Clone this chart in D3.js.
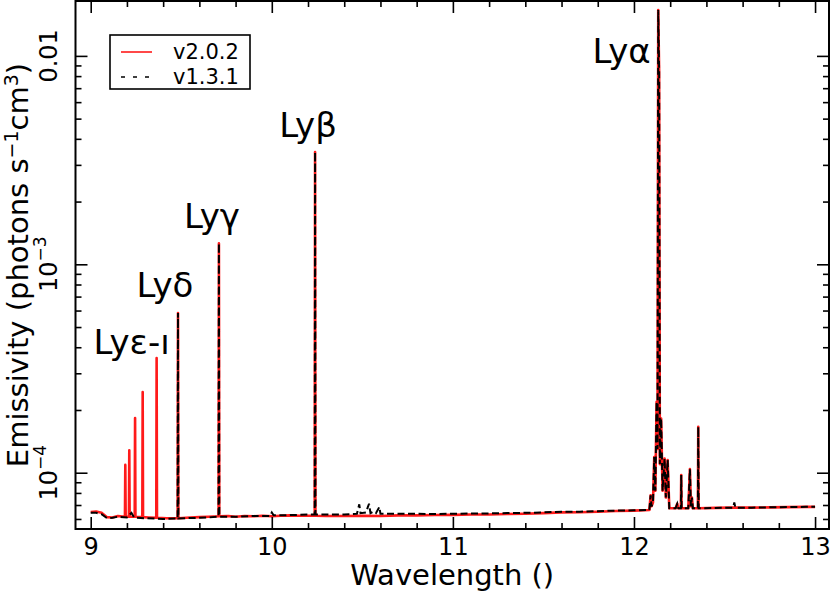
<!DOCTYPE html>
<html>
<head>
<meta charset="utf-8">
<script src="https://cdn.jsdelivr.net/npm/d3@7"></script>
<style>
  html, body { margin: 0; padding: 0; background: #fff; }
  svg { display: block; font-family: "DejaVu Sans", sans-serif; }
</style>
</head>
<body>
<svg id="chart" width="830" height="591"></svg>
<script>
// ---------------- data ----------------
const xTicks = [9, 10, 11, 12, 13];
const yTicks = [1e-4, 1e-3, 1e-2];
const yTickLabels = [["10", "\u22124"], ["10", "\u22123"], ["0.01", ""]];
const seriesNames = ["v2.0.2", "v1.3.1"];

// line labels: [text, wavelength, value for label]
const lineLabels = [
  ["Ly\u03b1", 12.136, 0.0166],
  ["Ly\u03b2", 10.239, 3.46e-3],
  ["Ly\u03b3", 9.708, 1.26e-3],
  ["Ly\u03b4", 9.482, 5.84e-4],
  ["Ly\u03b5-\u0131", 9.364, 3.55e-4]
];

// v2.0.2 spectrum [wavelength (Å), emissivity]
const v202 = [
  [9.000, 6.48e-5], [9.030, 6.52e-5], [9.060, 6.42e-5], [9.090, 6.12e-5], [9.120, 6.10e-5],
  [9.150, 6.20e-5], [9.189, 6.15e-5], [9.191, 1.09e-4], [9.193, 6.15e-5],
  [9.211, 6.15e-5], [9.213, 1.28e-4], [9.215, 6.15e-5],
  [9.243, 6.15e-5], [9.245, 1.83e-4], [9.247, 6.15e-5],
  [9.285, 6.12e-5], [9.287, 2.44e-4], [9.289, 6.12e-5],
  [9.320, 6.10e-5], [9.362, 6.08e-5], [9.364, 3.55e-4], [9.366, 6.08e-5],
  [9.420, 6.05e-5], [9.480, 6.05e-5], [9.482, 5.84e-4], [9.484, 6.05e-5],
  [9.550, 6.10e-5], [9.600, 6.12e-5], [9.650, 6.15e-5],
  [9.706, 6.18e-5], [9.708, 1.26e-3], [9.710, 6.18e-5],
  [9.760, 6.20e-5], [9.800, 6.15e-5], [9.850, 6.20e-5], [9.900, 6.18e-5], [9.950, 6.22e-5],
  [10.000, 6.18e-5], [10.050, 6.22e-5], [10.100, 6.24e-5], [10.150, 6.22e-5], [10.200, 6.22e-5],
  [10.237, 6.22e-5], [10.239, 3.46e-3], [10.241, 6.22e-5],
  [10.300, 6.20e-5], [10.400, 6.20e-5], [10.500, 6.22e-5], [10.600, 6.20e-5], [10.700, 6.24e-5],
  [10.800, 6.24e-5], [10.900, 6.27e-5], [11.000, 6.28e-5], [11.100, 6.30e-5], [11.200, 6.30e-5],
  [11.300, 6.34e-5], [11.400, 6.36e-5], [11.500, 6.40e-5], [11.600, 6.45e-5], [11.700, 6.46e-5],
  [11.800, 6.50e-5], [11.900, 6.55e-5], [12.000, 6.58e-5], [12.085, 6.62e-5],
  [12.092, 7.8e-5], [12.097, 6.9e-5], [12.105, 7.2e-5], [12.112, 1.19e-4], [12.118, 8.2e-5],
  [12.125, 2.19e-4], [12.130, 1.3e-4], [12.134, 0.0166], [12.139, 8.4e-3], [12.143, 1.1e-4],
  [12.150, 1.82e-4], [12.158, 8.2e-5], [12.169, 1.17e-4], [12.176, 7.6e-5], [12.186, 1.15e-4],
  [12.195, 6.75e-5], [12.230, 6.75e-5], [12.239, 7.1e-5], [12.245, 6.75e-5],
  [12.259, 6.75e-5], [12.261, 9.75e-5], [12.263, 6.75e-5],
  [12.300, 6.75e-5], [12.309, 1.04e-4], [12.314, 6.9e-5], [12.320, 7.6e-5], [12.325, 6.75e-5],
  [12.353, 6.75e-5], [12.355, 1.66e-4], [12.357, 6.75e-5],
  [12.450, 6.78e-5], [12.550, 6.80e-5], [12.650, 6.80e-5], [12.750, 6.82e-5],
  [12.850, 6.84e-5], [12.950, 6.86e-5], [13.000, 6.86e-5]
];

// v1.3.1 spectrum [wavelength (Å), emissivity]
const v131 = [
  [9.000, 6.42e-5], [9.030, 6.42e-5], [9.060, 6.32e-5], [9.090, 6.05e-5], [9.120, 6.08e-5],
  [9.150, 6.15e-5], [9.200, 6.10e-5], [9.225, 6.42e-5], [9.240, 6.10e-5],
  [9.300, 6.05e-5], [9.400, 6.00e-5], [9.480, 6.03e-5], [9.482, 5.84e-4], [9.484, 6.03e-5],
  [9.550, 6.06e-5], [9.650, 6.10e-5], [9.706, 6.15e-5], [9.708, 1.26e-3], [9.710, 6.15e-5],
  [9.800, 6.15e-5], [9.900, 6.20e-5], [9.990, 6.20e-5], [10.000, 6.45e-5], [10.010, 6.25e-5],
  [10.100, 6.26e-5], [10.200, 6.30e-5], [10.237, 6.30e-5], [10.239, 3.46e-3], [10.241, 6.30e-5],
  [10.300, 6.30e-5], [10.400, 6.30e-5], [10.470, 6.35e-5], [10.483, 7.05e-5], [10.490, 6.40e-5],
  [10.520, 6.45e-5], [10.537, 7.10e-5], [10.545, 6.40e-5], [10.560, 6.50e-5], [10.575, 6.40e-5],
  [10.594, 6.85e-5], [10.600, 6.35e-5], [10.700, 6.35e-5], [10.800, 6.35e-5], [10.900, 6.33e-5],
  [11.000, 6.36e-5], [11.100, 6.37e-5], [11.200, 6.38e-5], [11.300, 6.40e-5], [11.400, 6.42e-5],
  [11.500, 6.45e-5], [11.600, 6.50e-5], [11.700, 6.50e-5], [11.800, 6.54e-5], [11.900, 6.58e-5],
  [12.000, 6.60e-5], [12.085, 6.62e-5],
  [12.092, 7.8e-5], [12.097, 6.9e-5], [12.105, 7.2e-5], [12.112, 1.19e-4], [12.118, 8.2e-5],
  [12.125, 2.19e-4], [12.130, 1.3e-4], [12.134, 0.0166], [12.139, 8.4e-3], [12.143, 1.1e-4],
  [12.150, 1.82e-4], [12.158, 8.2e-5], [12.169, 1.17e-4], [12.176, 7.6e-5], [12.186, 1.15e-4],
  [12.195, 6.75e-5], [12.230, 6.75e-5], [12.239, 7.1e-5], [12.245, 6.75e-5],
  [12.259, 6.75e-5], [12.261, 9.75e-5], [12.263, 6.75e-5],
  [12.300, 6.75e-5], [12.309, 1.04e-4], [12.314, 6.9e-5], [12.320, 7.6e-5], [12.325, 6.75e-5],
  [12.353, 6.75e-5], [12.355, 1.66e-4], [12.357, 6.75e-5],
  [12.450, 6.78e-5], [12.548, 6.80e-5], [12.554, 7.2e-5], [12.560, 6.80e-5], [12.650, 6.80e-5],
  [12.750, 6.82e-5], [12.850, 6.84e-5], [12.950, 6.86e-5], [13.000, 6.86e-5]
];

// ---------------- layout ----------------
const svg = d3.select("#chart");
const L = 75.5, R = 829, T = 1, B = 529;

const x = d3.scaleLinear().domain([8.916, 13.077]).range([L, R]);
const y = d3.scaleLog().domain([5.37e-5, 0.01834]).range([B, T]);

svg.append("defs").append("clipPath").attr("id", "clip")
  .append("rect").attr("x", L).attr("y", T).attr("width", R - L).attr("height", B - T);

const line = d3.line().x(d => x(d[0])).y(d => y(d[1]));
const plot = svg.append("g").attr("clip-path", "url(#clip)");
plot.append("path").datum(v202).attr("d", line)
  .attr("fill", "none").attr("stroke", "#ff1a1a").attr("stroke-width", 2.6)
  .attr("stroke-linejoin", "round");
plot.append("path").datum(v131).attr("d", line)
  .attr("fill", "none").attr("stroke", "#000").attr("stroke-width", 2)
  .attr("stroke-dasharray", "7,3.5");

// ---------------- axes (inward ticks on all sides) ----------------
const xMinor = d3.range(9, 13.001, 0.2).map(v => +v.toFixed(1)).filter(v => !xTicks.includes(v));
const yMinor = [];
[1e-5, 1e-4, 1e-3, 1e-2].forEach(dec => { for (let k = 2; k <= 9; k++) yMinor.push(k * dec); });
const yMinorIn = yMinor.filter(v => v >= y.domain()[0] && v <= y.domain()[1]);

const axB = svg.append("g").attr("transform", `translate(0,${B})`)
  .call(d3.axisBottom(x).tickValues(xTicks).tickSizeInner(-12).tickSizeOuter(0).tickPadding(9).tickFormat(d3.format("d")));
const axBm = svg.append("g").attr("transform", `translate(0,${B})`)
  .call(d3.axisBottom(x).tickValues(xMinor).tickSizeInner(-6).tickSizeOuter(0).tickFormat(""));
const axT = svg.append("g").attr("transform", `translate(0,${T})`)
  .call(d3.axisTop(x).tickValues(xTicks).tickSizeInner(-12).tickSizeOuter(0).tickFormat(""));
const axTm = svg.append("g").attr("transform", `translate(0,${T})`)
  .call(d3.axisTop(x).tickValues(xMinor).tickSizeInner(-6).tickSizeOuter(0).tickFormat(""));
const axL = svg.append("g").attr("transform", `translate(${L},0)`)
  .call(d3.axisLeft(y).tickValues(yTicks).tickSizeInner(-12).tickSizeOuter(0).tickFormat(""));
const axLm = svg.append("g").attr("transform", `translate(${L},0)`)
  .call(d3.axisLeft(y).tickValues(yMinorIn).tickSizeInner(-6).tickSizeOuter(0).tickFormat(""));
const axR = svg.append("g").attr("transform", `translate(${R},0)`)
  .call(d3.axisRight(y).tickValues(yTicks).tickSizeInner(-12).tickSizeOuter(0).tickFormat(""));
const axRm = svg.append("g").attr("transform", `translate(${R},0)`)
  .call(d3.axisRight(y).tickValues(yMinorIn).tickSizeInner(-6).tickSizeOuter(0).tickFormat(""));

[axB, axBm, axT, axTm, axL, axLm, axR, axRm].forEach(g => {
  g.select(".domain").remove();
  g.selectAll(".tick line").attr("stroke", "#000").attr("stroke-width", 1.6);
});
axB.selectAll(".tick text").attr("font-size", 24).attr("fill", "#000")
  .attr("font-family", "DejaVu Sans, sans-serif");

// frame
svg.append("rect").attr("x", L).attr("y", T).attr("width", R - L).attr("height", B - T)
  .attr("fill", "none").attr("stroke", "#000").attr("stroke-width", 2);

// y tick labels (rotated)
yTicks.forEach((v, i) => {
  const t = svg.append("text")
    .attr("transform", `translate(57,${y(v)}) rotate(-90)`)
    .attr("text-anchor", "middle").attr("font-size", 24).attr("fill", "#000");
  t.append("tspan").text(yTickLabels[i][0]);
  if (yTickLabels[i][1]) t.append("tspan").attr("dy", -11).attr("font-size", 17).text(yTickLabels[i][1]);
});

// axis titles
svg.append("text").attr("x", (L + R) / 2).attr("y", 585).attr("text-anchor", "middle")
  .attr("font-size", 29).attr("fill", "#000").text("Wavelength ()");

const yl = svg.append("text").attr("transform", `translate(28,${(T + B) / 2}) rotate(-90)`)
  .attr("text-anchor", "middle").attr("font-size", 29).attr("fill", "#000");
yl.append("tspan").text("Emissivity (photons s");
yl.append("tspan").attr("dy", -10).attr("font-size", 19).text("\u22121");
yl.append("tspan").attr("dy", 10).text("cm");
yl.append("tspan").attr("dy", -10).attr("font-size", 19).text("3");
yl.append("tspan").attr("dy", 10).text(")");

// line labels (offset from the top of each line: [dx, baseline dy])
const labelOffsets = [[-37, 53], [-7, -15], [-7, -15], [-13, -16], [-25, -4]];
lineLabels.forEach((d, i) => {
  svg.append("text")
    .attr("x", x(d[1]) + labelOffsets[i][0])
    .attr("y", y(d[2]) + labelOffsets[i][1])
    .attr("text-anchor", "middle").attr("font-size", 34).attr("fill", "#000")
    .text(d[0]);
});

// legend
const lg = svg.append("g");
lg.append("rect").attr("x", 110).attr("y", 35).attr("width", 140).attr("height", 54)
  .attr("fill", "#fff").attr("stroke", "#000").attr("stroke-width", 1.6);
lg.append("line").attr("x1", 121).attr("x2", 152).attr("y1", 52).attr("y2", 52)
  .attr("stroke", "#ff1a1a").attr("stroke-width", 1.6);
lg.append("line").attr("x1", 121).attr("x2", 154).attr("y1", 77).attr("y2", 77)
  .attr("stroke", "#000").attr("stroke-width", 1.6).attr("stroke-dasharray", "4,8");
lg.append("text").attr("x", 173).attr("y", 59).attr("font-size", 21).attr("fill", "#000").text(seriesNames[0]);
lg.append("text").attr("x", 173).attr("y", 84).attr("font-size", 21).attr("fill", "#000").text(seriesNames[1]);
</script>
</body>
</html>
